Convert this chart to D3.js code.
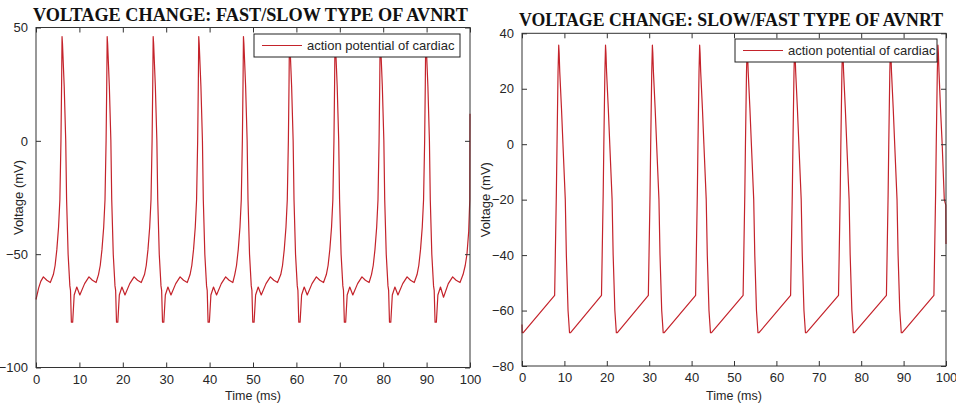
<!DOCTYPE html>
<html>
<head>
<meta charset="utf-8">
<script src="https://cdn.jsdelivr.net/npm/d3@7"></script>
<style>
  body { margin: 0; background: #fff; }
  svg { display: block; }
  .tick text { font-family: "Liberation Sans", Arial, sans-serif; font-size: 13px; fill: #262626; }
  .tick line { stroke: #333; }
  .label { font-family: "Liberation Sans", Arial, sans-serif; font-size: 13px; fill: #262626; }
  .title { font-family: "Liberation Serif", "Times New Roman", serif; font-weight: bold; font-size: 18px; fill: #111; }
</style>
</head>
<body>
<svg id="chart" width="956" height="404"></svg>
<script>
const timeTicks = [0, 10, 20, 30, 40, 50, 60, 70, 80, 90, 100];
const fastSlowVoltTicks = [-100, -50, 0, 50];
const slowFastVoltTicks = [-80, -60, -40, -20, 0, 20, 40];
const legendText = 'action potential of cardiac';

// fast/slow AVNRT trace (ms, mV)
const fastSlowTime = [
  0, 0.6, 1.1, 1.7, 2.5, 3.3, 4.0, 4.4, 4.8, 5.2, 5.5, 5.75, 5.9,
  6.0, 6.1, 6.5, 6.85, 7.05, 7.4, 7.8, 7.95, 8.15, 8.45, 8.8, 9.4, 10.1, 11.2, 12.2, 13.0, 13.85,
  14.4, 14.8, 15.2, 15.6, 15.9, 16.15, 16.3,
  16.4, 16.5, 16.9, 17.25, 17.45, 17.8, 18.2, 18.35, 18.55, 18.85, 19.2, 19.8, 20.5, 21.6, 22.6, 23.4, 24.25,
  25.0, 25.4, 25.8, 26.2, 26.5, 26.75, 26.9,
  27.0, 27.1, 27.5, 27.85, 28.05, 28.4, 28.8, 28.95, 29.15, 29.45, 29.8, 30.4, 31.1, 32.2, 33.2, 34.0, 34.85,
  35.5, 35.9, 36.3, 36.7, 37.0, 37.25, 37.4,
  37.5, 37.6, 38.0, 38.35, 38.55, 38.9, 39.3, 39.45, 39.65, 39.95, 40.3, 40.9, 41.6, 42.7, 43.7, 44.5, 45.35,
  45.8, 46.2, 46.6, 47.0, 47.3, 47.55, 47.7,
  47.8, 47.9, 48.3, 48.65, 48.85, 49.2, 49.6, 49.75, 49.95, 50.25, 50.6, 51.2, 51.9, 53.0, 54.0, 54.8, 55.65,
  56.4, 56.8, 57.2, 57.6, 57.9, 58.15, 58.3,
  58.4, 58.5, 58.9, 59.25, 59.45, 59.8, 60.2, 60.35, 60.55, 60.85, 61.2, 61.8, 62.5, 63.6, 64.6, 65.4, 66.25,
  66.9, 67.3, 67.7, 68.1, 68.4, 68.65, 68.8,
  68.9, 69.0, 69.4, 69.75, 69.95, 70.3, 70.7, 70.85, 71.05, 71.35, 71.7, 72.3, 73.0, 74.1, 75.1, 75.9, 76.75,
  77.3, 77.7, 78.1, 78.5, 78.8, 79.05, 79.2,
  79.3, 79.4, 79.8, 80.15, 80.35, 80.7, 81.1, 81.25, 81.45, 81.75, 82.1, 82.7, 83.4, 84.5, 85.5, 86.3, 87.15,
  87.8, 88.2, 88.6, 89.0, 89.3, 89.55, 89.7,
  89.8, 89.9, 90.3, 90.65, 90.85, 91.2, 91.6, 91.75, 91.95, 92.25, 92.6, 93.2, 93.9, 95.0, 96.0, 96.8, 97.7,
  98.4, 98.9, 99.3, 99.7, 99.95, 100
];
const fastSlowVolt = [
  -70, -65, -62, -60, -61.5, -62.5, -59, -55, -48, -38, -26, 0, 25,
  46, 43, 24, 0, -26, -50, -64, -66, -80, -80, -68, -64.5, -68, -63, -60, -61.5, -62.5,
  -59, -55, -48, -38, -26, 0, 25,
  46, 43, 24, 0, -26, -50, -64, -66, -80, -80, -68, -64.5, -68, -63, -60, -61.5, -62.5,
  -59, -55, -48, -38, -26, 0, 25,
  46, 43, 24, 0, -26, -50, -64, -66, -80, -80, -68, -64.5, -68, -63, -60, -61.5, -62.5,
  -59, -55, -48, -38, -26, 0, 25,
  46, 43, 24, 0, -26, -50, -64, -66, -80, -80, -68, -64.5, -68, -63, -60, -61.5, -62.5,
  -59, -55, -48, -38, -26, 0, 25,
  46, 43, 24, 0, -26, -50, -64, -66, -80, -80, -68, -64.5, -68, -63, -60, -61.5, -62.5,
  -59, -55, -48, -38, -26, 0, 25,
  46, 43, 24, 0, -26, -50, -64, -66, -80, -80, -68, -64.5, -68, -63, -60, -61.5, -62.5,
  -59, -55, -48, -38, -26, 0, 25,
  46, 43, 24, 0, -26, -50, -64, -66, -80, -80, -68, -64.5, -68, -63, -60, -61.5, -62.5,
  -59, -55, -48, -38, -26, 0, 25,
  46, 43, 24, 0, -26, -50, -64, -66, -80, -80, -68, -64.5, -68, -63, -60, -61.5, -62.5,
  -59, -55, -48, -38, -26, 0, 25,
  46, 43, 24, 0, -26, -50, -64, -66, -80, -80, -68, -64.5, -69, -63, -60, -61.5, -62.5,
  -59, -55, -50, -40, -26, 12
];

// slow/fast AVNRT trace (ms, mV)
const slowFastTime = [
  0, 0.05, 0.3, 7.7, 8.1, 8.26, 8.5,
  8.66, 8.76, 8.91, 9.31, 9.66, 10.21, 10.46, 10.86, 11.21, 11.46, 18.75, 19.15, 19.3, 19.55,
  19.7, 19.8, 19.95, 20.35, 20.7, 21.25, 21.5, 21.9, 22.25, 22.5, 29.8, 30.2, 30.35, 30.6,
  30.75, 30.85, 31.0, 31.4, 31.75, 32.3, 32.55, 32.95, 33.3, 33.55, 40.95, 41.35, 41.5, 41.75,
  41.9, 42.0, 42.15, 42.55, 42.9, 43.45, 43.7, 44.1, 44.45, 44.7, 52.15, 52.55, 52.7, 52.95,
  53.1, 53.2, 53.35, 53.75, 54.1, 54.65, 54.9, 55.3, 55.65, 55.9, 63.35, 63.75, 63.9, 64.15,
  64.3, 64.4, 64.55, 64.95, 65.3, 65.85, 66.1, 66.5, 66.85, 67.1, 74.65, 75.05, 75.2, 75.45,
  75.6, 75.7, 75.85, 76.25, 76.6, 77.15, 77.4, 77.8, 78.15, 78.4, 85.95, 86.35, 86.5, 86.75,
  86.9, 87.0, 87.15, 87.55, 87.9, 88.45, 88.7, 89.1, 89.45, 89.7, 97.15, 97.55, 97.7, 97.95,
  98.1, 98.2, 98.35, 98.7, 99.1, 99.6, 99.95, 100
];
const slowFastVolt = [
  -65, -68, -68, -54.5, -18, 0, 26,
  35.7, 33, 26, 13, 0, -20, -40, -60, -68, -68, -54.5, -18, 0, 26,
  35.7, 33, 26, 13, 0, -20, -40, -60, -68, -68, -54.5, -18, 0, 26,
  35.7, 33, 26, 13, 0, -20, -40, -60, -68, -68, -54.5, -18, 0, 26,
  35.7, 33, 26, 13, 0, -20, -40, -60, -68, -68, -54.5, -18, 0, 26,
  35.7, 33, 26, 13, 0, -20, -40, -60, -68, -68, -54.5, -18, 0, 26,
  35.7, 33, 26, 13, 0, -20, -40, -60, -68, -68, -54.5, -18, 0, 26,
  35.7, 33, 26, 13, 0, -20, -40, -60, -68, -68, -54.5, -18, 0, 26,
  35.7, 33, 26, 13, 0, -20, -40, -60, -68, -68, -54.5, -18, 0, 26,
  35.7, 33, 26, 13, 0, -20, -22, -36
];

const svg = d3.select('#chart');
const lineColor = '#c4232b';
const axisColor = '#333';

function drawPanel(p) {
  const x = d3.scaleLinear().domain([0, 100]).range([p.left, p.right]);
  const y = d3.scaleLinear().domain(p.yDomain).range([p.bottom, p.top]);
  const g = svg.append('g');

  // trace
  const pts = p.time.map((t, i) => [t, p.volt[i]]);
  g.append('path')
    .datum(pts)
    .attr('fill', 'none')
    .attr('stroke', lineColor)
    .attr('stroke-width', 1.2)
    .attr('stroke-linejoin', 'round')
    .attr('d', d3.line().x(d => x(d[0])).y(d => y(d[1])));

  // axes with inward ticks on all four sides
  const tick = 5;
  g.append('g')
    .attr('transform', `translate(0,${p.bottom})`)
    .call(d3.axisBottom(x).tickValues(timeTicks).tickSizeInner(-tick).tickSizeOuter(0).tickPadding(7))
    .call(a => a.select('.domain').remove());
  g.append('g')
    .attr('transform', `translate(0,${p.top})`)
    .call(d3.axisTop(x).tickValues(timeTicks).tickSizeInner(-tick).tickSizeOuter(0).tickFormat(''))
    .call(a => a.select('.domain').remove());
  g.append('g')
    .attr('transform', `translate(${p.left},0)`)
    .call(d3.axisLeft(y).tickValues(p.yTicks).tickSizeInner(-tick).tickSizeOuter(0).tickPadding(8))
    .call(a => a.select('.domain').remove());
  g.append('g')
    .attr('transform', `translate(${p.right},0)`)
    .call(d3.axisRight(y).tickValues(p.yTicks).tickSizeInner(-tick).tickSizeOuter(0).tickFormat(''))
    .call(a => a.select('.domain').remove());
  g.selectAll('.tick text').attr('fill', null);
  g.selectAll('.tick line').attr('stroke', axisColor);

  g.append('rect')
    .attr('x', p.left).attr('y', p.top)
    .attr('width', p.right - p.left).attr('height', p.bottom - p.top)
    .attr('fill', 'none').attr('stroke', axisColor).attr('stroke-width', 1);

  // legend
  const lg = g.append('g').attr('transform', `translate(${p.legX},${p.legY})`);
  lg.append('rect')
    .attr('width', p.legW).attr('height', 23)
    .attr('fill', '#fff').attr('stroke', '#222').attr('stroke-width', 1);
  lg.append('line')
    .attr('x1', 8).attr('x2', 48).attr('y1', 11.5).attr('y2', 11.5)
    .attr('stroke', lineColor).attr('stroke-width', 1.2);
  lg.append('text').attr('class', 'label')
    .attr('x', 53).attr('y', 16)
    .text(legendText);

  // labels
  g.append('text').attr('class', 'label')
    .attr('x', (p.left + p.right) / 2).attr('y', 400)
    .attr('text-anchor', 'middle')
    .style('font-size', '12.5px')
    .text('Time (ms)');
  g.append('text').attr('class', 'label')
    .attr('transform', `translate(${p.yLabelX},${(p.top + p.bottom) / 2}) rotate(-90)`)
    .attr('text-anchor', 'middle')
    .text('Voltage (mV)');
  g.append('text').attr('class', 'title')
    .attr('x', p.titleX).attr('y', p.titleY)
    .attr('text-anchor', 'middle')
    .attr('textLength', p.titleW).attr('lengthAdjust', 'spacingAndGlyphs')
    .text(p.title);
}

drawPanel({
  time: fastSlowTime, volt: fastSlowVolt,
  yDomain: [-100, 50], yTicks: fastSlowVoltTicks,
  left: 36, right: 470, top: 27.5, bottom: 367.5,
  legX: 254, legY: 34, legW: 206,
  yLabelX: 23,
  title: 'VOLTAGE CHANGE: FAST/SLOW TYPE OF AVNRT', titleX: 250.5, titleY: 21, titleW: 435
});

drawPanel({
  time: slowFastTime, volt: slowFastVolt,
  yDomain: [-80, 40], yTicks: slowFastVoltTicks,
  left: 522, right: 946, top: 33.3, bottom: 366,
  legX: 735, legY: 39, legW: 202,
  yLabelX: 490,
  title: 'VOLTAGE CHANGE: SLOW/FAST TYPE OF AVNRT', titleX: 731, titleY: 26, titleW: 424
});
</script>
</body>
</html>
